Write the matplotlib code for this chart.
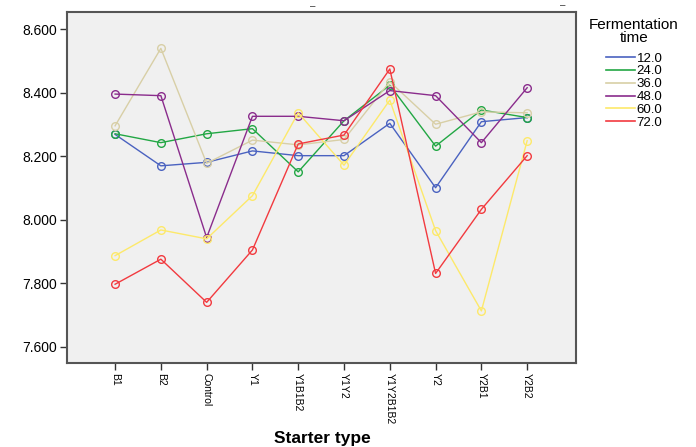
import matplotlib
matplotlib.use("Agg")
import matplotlib.pyplot as plt
from matplotlib.lines import Line2D

plt.rcParams['font.family'] = ['Liberation Sans', 'DejaVu Sans']

categories = ["B1", "B2", "Control", "Y1", "Y1B1B2", "Y1Y2", "Y1Y2B1B2", "Y2", "Y2B1", "Y2B2"]
series_names = ["12.0", "24.0", "36.0", "48.0", "60.0", "72.0"]
v12 = [8.269, 8.170, 8.181, 8.217, 8.202, 8.202, 8.304, 8.101, 8.309, 8.322]
v24 = [8.271, 8.243, 8.271, 8.287, 8.151, 8.312, 8.424, 8.232, 8.346, 8.322]
v36 = [8.296, 8.540, 8.178, 8.251, 8.236, 8.253, 8.435, 8.301, 8.340, 8.337]
v48 = [8.396, 8.391, 7.944, 8.326, 8.326, 8.312, 8.407, 8.391, 8.243, 8.416]
v60 = [7.887, 7.968, 7.940, 8.076, 8.337, 8.172, 8.377, 7.966, 7.713, 8.249]
v72 = [7.797, 7.876, 7.740, 7.905, 8.239, 8.267, 8.475, 7.831, 8.033, 8.202]
series = [v12, v24, v36, v48, v60, v72]
colors = ["#4a62c0", "#22a744", "#d8cfa6", "#8a2c8c", "#fde96a", "#f23a3f"]
yticks = [7.6, 7.8, 8.0, 8.2, 8.4, 8.6]

fig = plt.figure(figsize=(6.96, 4.47), dpi=100)
ax = fig.add_axes([67/696, 1-363/447, (575.7-67)/696, (363-12)/447])
ax.set_facecolor("#f0f0f0")
x = list(range(len(categories)))
for vals, c in zip(series, colors):
    ax.plot(x, vals, color=c, lw=1.0, marker="o", ms=5.5, mfc="none", mec=c, mew=1.0)

ax.set_xlim(-1.05, len(categories) - 1 + 1.06)
ax.set_ylim(7.549, 8.6545)
ax.set_yticks(yticks)
ax.set_yticklabels([f"{t:.3f}" for t in yticks], fontsize=10)
ax.set_xticks(x)
ax.set_xticklabels(categories, rotation=270, fontsize=7.5, va="top", ha="center")
ax.tick_params(direction="out", length=5, width=1, color="#333333", pad=2)
for s in ax.spines.values():
    s.set_color("#555555")
    s.set_linewidth(1.5)
fig.text(322/696, 1-438/447, "Starter type", fontsize=12.5, fontweight="bold",
         ha="center", va="center")

# small marks at top
fig.text(313/696, 1-6/447, "\u2013", fontsize=7, ha="center", va="center", color="#333333")
fig.text(563/696, 1-5/447, "\u2013", fontsize=7, ha="center", va="center", color="#333333")

# legend title
fig.text(634/696, 1-25/447, "Fermentation", fontsize=11, ha="center", va="center")
fig.text(634/696, 1-37.5/447, "time", fontsize=11, ha="center", va="center")

handles = [Line2D([0], [0], color=c, lw=1.2) for c in colors]
leg = fig.legend(handles, series_names, loc="upper left",
                 bbox_to_anchor=(601/696, 1-47/447), frameon=False, fontsize=9.5,
                 handlelength=2.2, handletextpad=0.1,
                 labelspacing=0.05, borderaxespad=0)

fig.savefig("out.png", dpi=100)
